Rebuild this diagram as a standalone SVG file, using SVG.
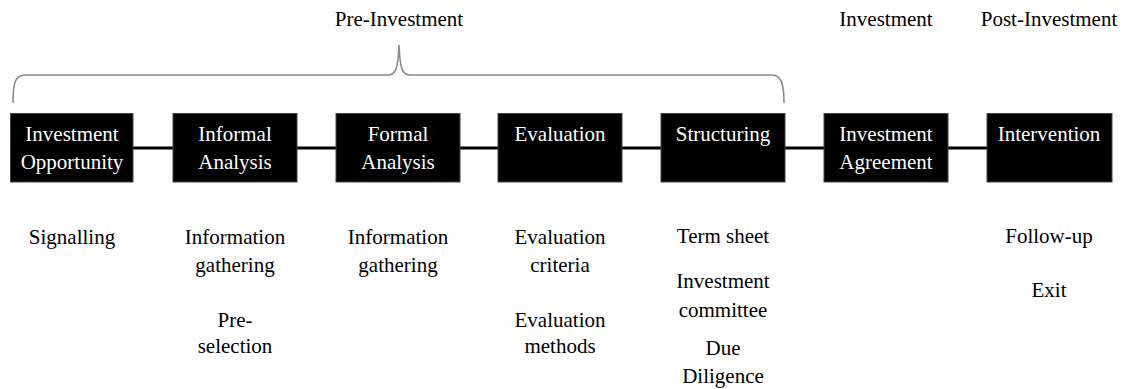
<svg xmlns="http://www.w3.org/2000/svg" width="1122" height="389" viewBox="0 0 1122 389">
<defs>
<path id="braceShape" d="M13,103 C13,86 14,75 25,75 L388,75 C396,75 398,68 399,45 C400,68 402,75 410,75 L772,75 C782,75 784,86 784,103"/>
</defs>
<rect width="1122" height="389" fill="#fff"/>
<g id="phases">
<text font-family="Liberation Serif" font-size="21" text-anchor="middle" fill="#000" x="399" y="26">Pre-Investment</text>
<text font-family="Liberation Serif" font-size="21" text-anchor="middle" fill="#000" x="886" y="26">Investment</text>
<text font-family="Liberation Serif" font-size="21" text-anchor="middle" fill="#000" x="1049" y="26">Post-Investment</text>
<use href="#braceShape" fill="none" stroke="#8c8c8c" stroke-width="1.6"/>
</g>
<g id="connectors" stroke="#000" stroke-width="3">
<line x1="133" y1="148" x2="173" y2="148"/>
<line x1="297" y1="148" x2="336" y2="148"/>
<line x1="460" y1="148" x2="498" y2="148"/>
<line x1="622" y1="148" x2="661" y2="148"/>
<line x1="785" y1="148" x2="824" y2="148"/>
<line x1="948" y1="148" x2="987" y2="148"/>
</g>
<g id="n1">
<rect fill="#000" stroke="#444" x="10.5" y="113.5" width="122.5" height="68.5"/>
<text font-family="Liberation Serif" font-size="21" text-anchor="middle" fill="#fff" x="72" y="141">Investment</text>
<text font-family="Liberation Serif" font-size="21" text-anchor="middle" fill="#fff" x="72" y="169">Opportunity</text>
<text font-family="Liberation Serif" font-size="21" text-anchor="middle" fill="#000" x="72" y="244">Signalling</text>
</g>
<g id="n2">
<rect fill="#000" stroke="#444" x="173" y="113.5" width="124" height="68.5"/>
<text font-family="Liberation Serif" font-size="21" text-anchor="middle" fill="#fff" x="235" y="141">Informal</text>
<text font-family="Liberation Serif" font-size="21" text-anchor="middle" fill="#fff" x="235" y="169">Analysis</text>
<text font-family="Liberation Serif" font-size="21" text-anchor="middle" fill="#000" x="235" y="244">Information</text>
<text font-family="Liberation Serif" font-size="21" text-anchor="middle" fill="#000" x="235" y="272">gathering</text>
<text font-family="Liberation Serif" font-size="21" text-anchor="middle" fill="#000" x="235" y="327">Pre-</text>
<text font-family="Liberation Serif" font-size="21" text-anchor="middle" fill="#000" x="235" y="353">selection</text>
</g>
<g id="n3">
<rect fill="#000" stroke="#444" x="336" y="113.5" width="124" height="68.5"/>
<text font-family="Liberation Serif" font-size="21" text-anchor="middle" fill="#fff" x="398" y="141">Formal</text>
<text font-family="Liberation Serif" font-size="21" text-anchor="middle" fill="#fff" x="398" y="169">Analysis</text>
<text font-family="Liberation Serif" font-size="21" text-anchor="middle" fill="#000" x="398" y="244">Information</text>
<text font-family="Liberation Serif" font-size="21" text-anchor="middle" fill="#000" x="398" y="272">gathering</text>
</g>
<g id="n4">
<rect fill="#000" stroke="#444" x="498" y="113.5" width="124" height="68.5"/>
<text font-family="Liberation Serif" font-size="21" text-anchor="middle" fill="#fff" x="560" y="141">Evaluation</text>
<text font-family="Liberation Serif" font-size="21" text-anchor="middle" fill="#000" x="560" y="244">Evaluation</text>
<text font-family="Liberation Serif" font-size="21" text-anchor="middle" fill="#000" x="560" y="272">criteria</text>
<text font-family="Liberation Serif" font-size="21" text-anchor="middle" fill="#000" x="560" y="327">Evaluation</text>
<text font-family="Liberation Serif" font-size="21" text-anchor="middle" fill="#000" x="560" y="353">methods</text>
</g>
<g id="n5">
<rect fill="#000" stroke="#444" x="661" y="113.5" width="124" height="68.5"/>
<text font-family="Liberation Serif" font-size="21" text-anchor="middle" fill="#fff" x="723" y="141">Structuring</text>
<text font-family="Liberation Serif" font-size="21" text-anchor="middle" fill="#000" x="723" y="243">Term sheet</text>
<text font-family="Liberation Serif" font-size="21" text-anchor="middle" fill="#000" x="723" y="288">Investment</text>
<text font-family="Liberation Serif" font-size="21" text-anchor="middle" fill="#000" x="723" y="317">committee</text>
<text font-family="Liberation Serif" font-size="21" text-anchor="middle" fill="#000" x="723" y="355">Due</text>
<text font-family="Liberation Serif" font-size="21" text-anchor="middle" fill="#000" x="723" y="383">Diligence</text>
</g>
<g id="n6">
<rect fill="#000" stroke="#444" x="824" y="113.5" width="124" height="68.5"/>
<text font-family="Liberation Serif" font-size="21" text-anchor="middle" fill="#fff" x="886" y="141">Investment</text>
<text font-family="Liberation Serif" font-size="21" text-anchor="middle" fill="#fff" x="886" y="169">Agreement</text>
</g>
<g id="n7">
<rect fill="#000" stroke="#444" x="987" y="113.5" width="125" height="68.5"/>
<text font-family="Liberation Serif" font-size="21" text-anchor="middle" fill="#fff" x="1049" y="141">Intervention</text>
<text font-family="Liberation Serif" font-size="21" text-anchor="middle" fill="#000" x="1049" y="243">Follow-up</text>
<text font-family="Liberation Serif" font-size="21" text-anchor="middle" fill="#000" x="1049" y="297">Exit</text>
</g>
</svg>
